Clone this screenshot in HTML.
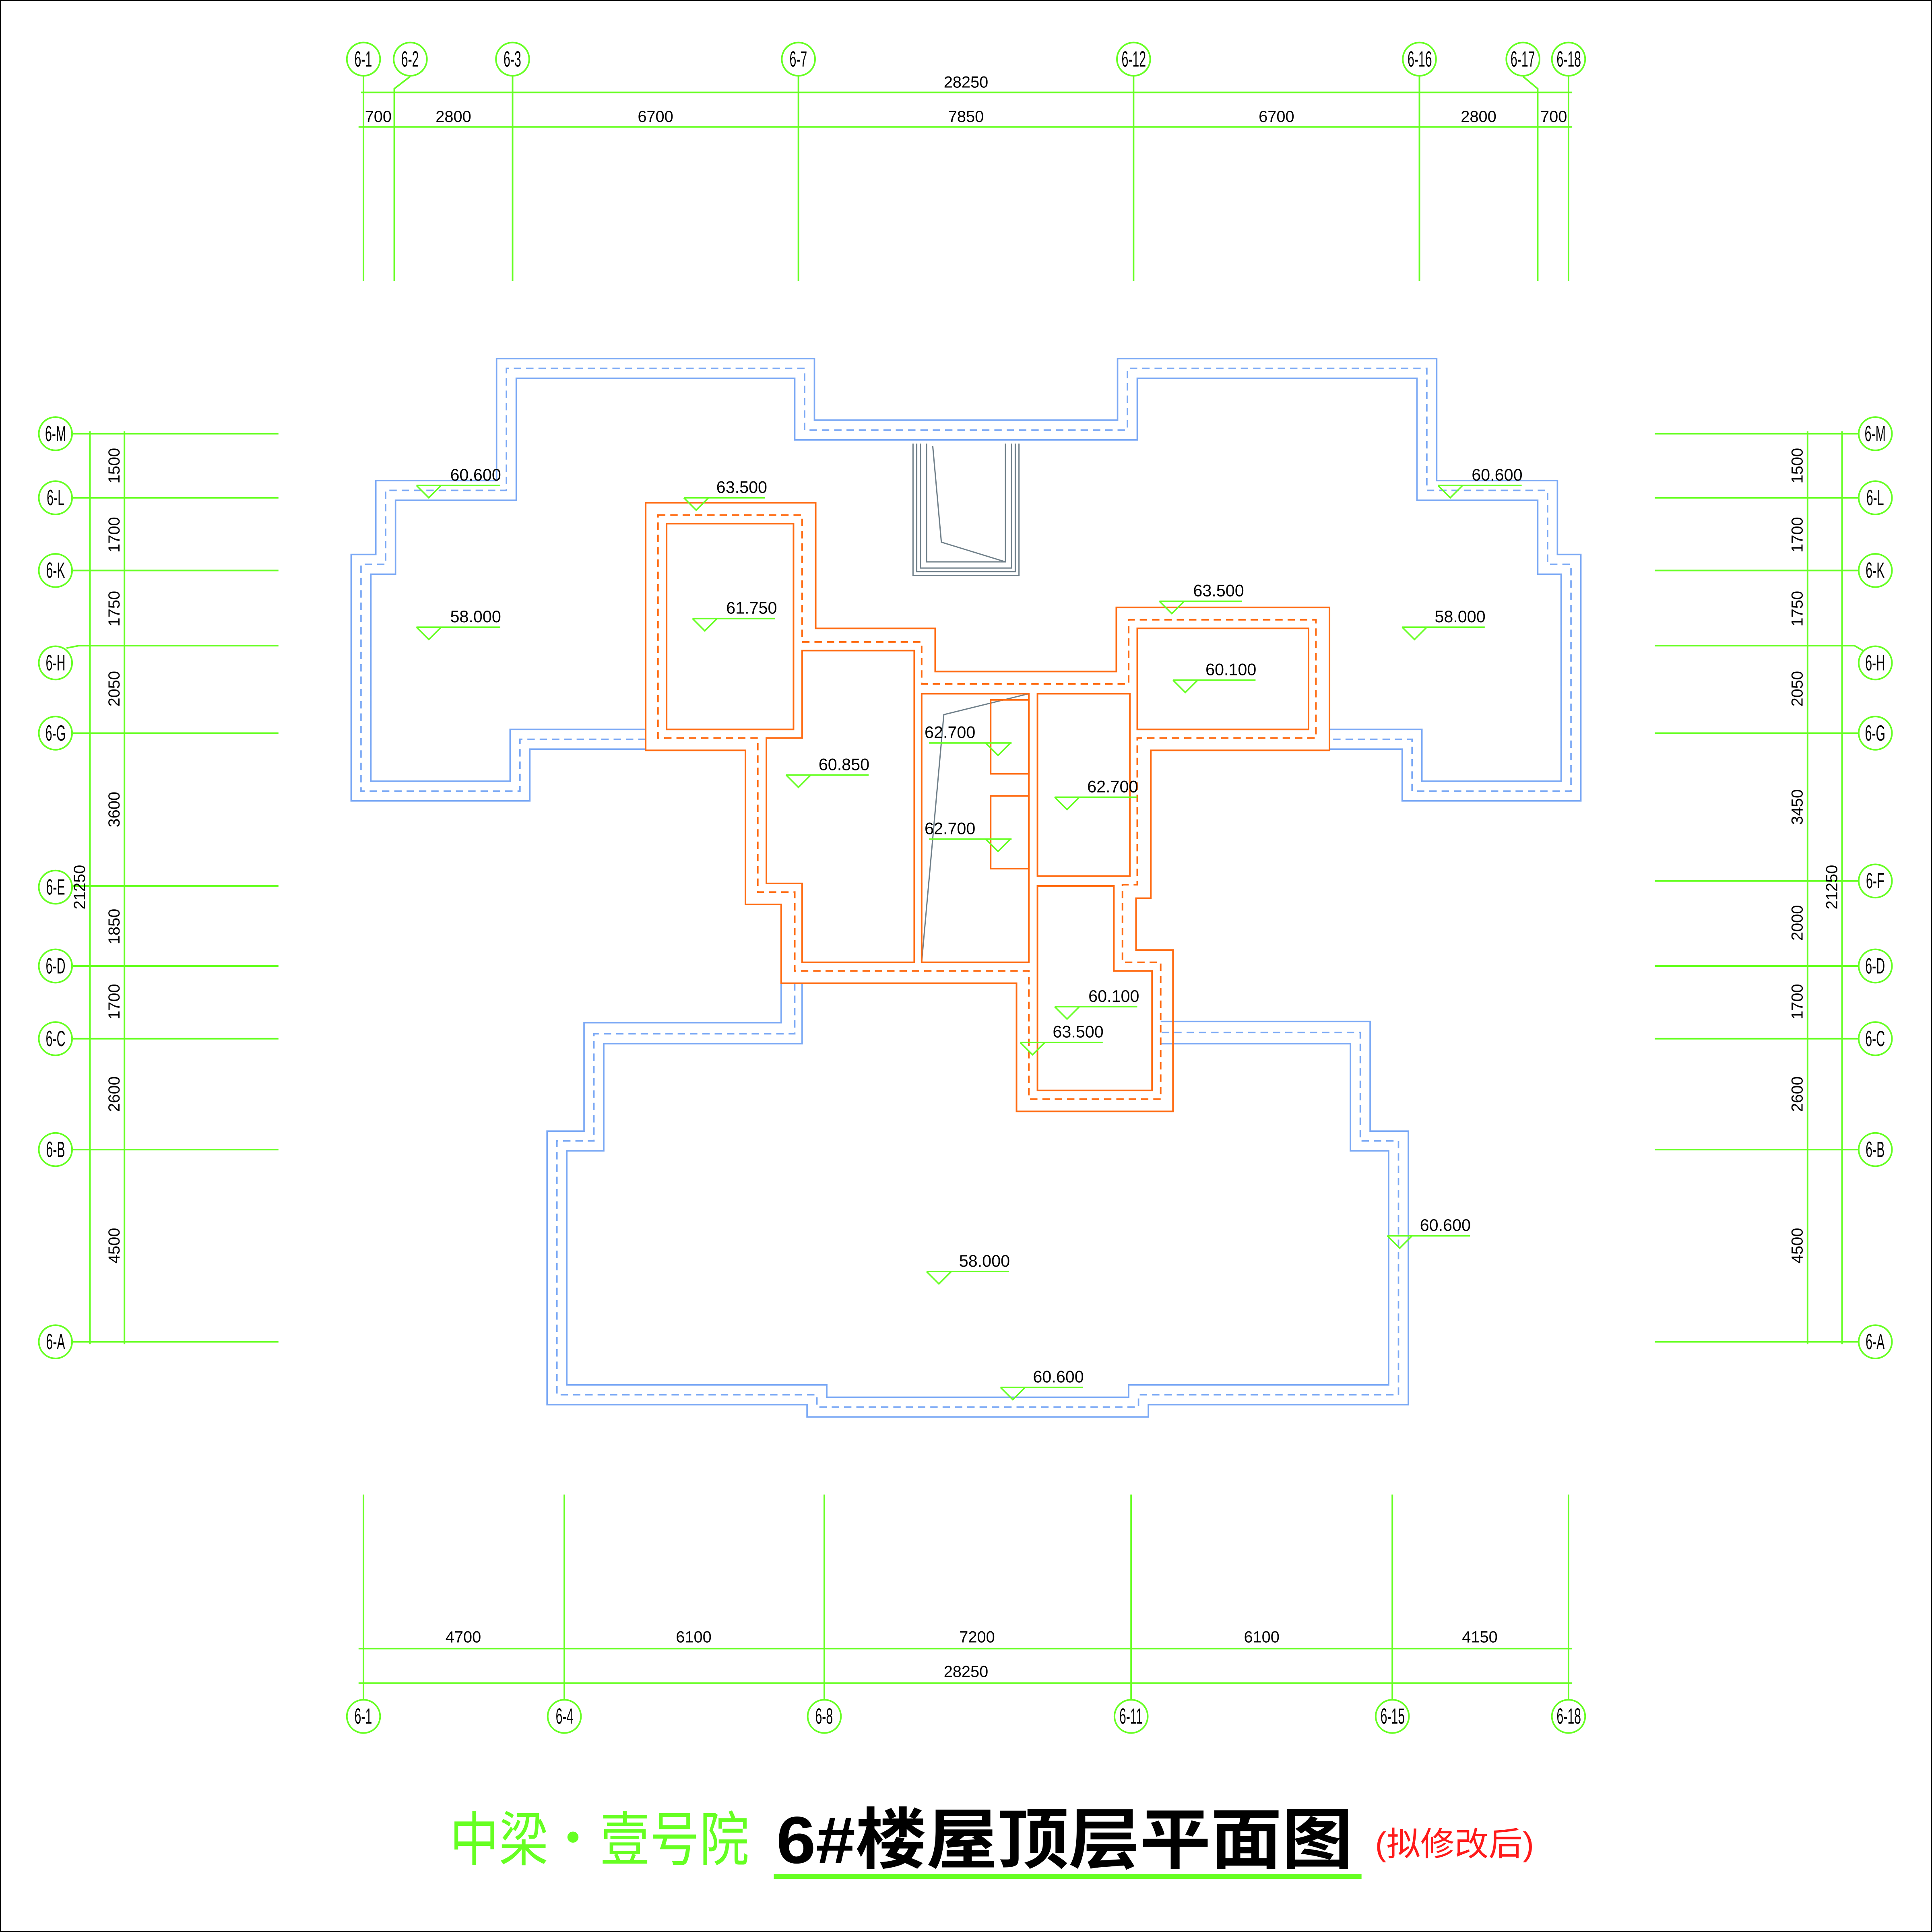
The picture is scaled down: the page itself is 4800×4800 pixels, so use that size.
<!DOCTYPE html>
<html><head><meta charset="utf-8"><style>html,body{margin:0;padding:0;background:#fff}svg{display:block}</style></head>
<body>
<svg width="4800" height="4800" viewBox="0 0 1568 1568" xmlns="http://www.w3.org/2000/svg" font-family="Liberation Sans, sans-serif">
<rect x="0.5" y="0.5" width="1567" height="1567" fill="#fff" stroke="#000" stroke-width="1"/>
<g stroke="#66ff22" stroke-width="1.3" fill="none">
<line x1="295" y1="62" x2="295" y2="228"/>
<polyline points="333,62 320,72 320,228"/>
<line x1="416" y1="62" x2="416" y2="228"/>
<line x1="648" y1="62" x2="648" y2="228"/>
<line x1="920" y1="62" x2="920" y2="228"/>
<line x1="1152" y1="62" x2="1152" y2="228"/>
<polyline points="1236,62 1248,72 1248,228"/>
<line x1="1273" y1="62" x2="1273" y2="228"/>
<line x1="293" y1="75" x2="1276" y2="75"/>
<line x1="291" y1="103" x2="1276" y2="103"/>
<line x1="295" y1="1213" x2="295" y2="1379"/>
<line x1="458" y1="1213" x2="458" y2="1379"/>
<line x1="669" y1="1213" x2="669" y2="1379"/>
<line x1="918" y1="1213" x2="918" y2="1379"/>
<line x1="1130" y1="1213" x2="1130" y2="1379"/>
<line x1="1273" y1="1213" x2="1273" y2="1379"/>
<line x1="291" y1="1338" x2="1276" y2="1338"/>
<line x1="291" y1="1366" x2="1276" y2="1366"/>
<line x1="59" y1="352" x2="226" y2="352"/>
<line x1="59" y1="404" x2="226" y2="404"/>
<line x1="59" y1="463" x2="226" y2="463"/>
<polyline points="54,526 64,524 226,524"/>
<line x1="59" y1="595" x2="226" y2="595"/>
<line x1="59" y1="719" x2="226" y2="719"/>
<line x1="59" y1="784" x2="226" y2="784"/>
<line x1="59" y1="843" x2="226" y2="843"/>
<line x1="59" y1="933" x2="226" y2="933"/>
<line x1="59" y1="1089" x2="226" y2="1089"/>
<line x1="73" y1="350" x2="73" y2="1091"/>
<line x1="101" y1="350" x2="101" y2="1091"/>
<line x1="1343" y1="352" x2="1508" y2="352"/>
<line x1="1343" y1="404" x2="1508" y2="404"/>
<line x1="1343" y1="463" x2="1508" y2="463"/>
<polyline points="1343,524 1505,524 1512,528"/>
<line x1="1343" y1="595" x2="1508" y2="595"/>
<line x1="1343" y1="715" x2="1508" y2="715"/>
<line x1="1343" y1="784" x2="1508" y2="784"/>
<line x1="1343" y1="843" x2="1508" y2="843"/>
<line x1="1343" y1="933" x2="1508" y2="933"/>
<line x1="1343" y1="1089" x2="1508" y2="1089"/>
<line x1="1495" y1="350" x2="1495" y2="1091"/>
<line x1="1467" y1="350" x2="1467" y2="1091"/>
<circle cx="295" cy="48" r="13.5"/><circle cx="333" cy="48" r="13.5"/><circle cx="416" cy="48" r="13.5"/><circle cx="648" cy="48" r="13.5"/><circle cx="920" cy="48" r="13.5"/><circle cx="1152" cy="48" r="13.5"/><circle cx="1236" cy="48" r="13.5"/><circle cx="1273" cy="48" r="13.5"/>
<circle cx="295" cy="1393" r="13.5"/><circle cx="458" cy="1393" r="13.5"/><circle cx="669" cy="1393" r="13.5"/><circle cx="918" cy="1393" r="13.5"/><circle cx="1130" cy="1393" r="13.5"/><circle cx="1273" cy="1393" r="13.5"/>
<circle cx="45" cy="352" r="13.5"/><circle cx="45" cy="404" r="13.5"/><circle cx="45" cy="463" r="13.5"/><circle cx="45" cy="538" r="13.5"/><circle cx="45" cy="595" r="13.5"/><circle cx="45" cy="720" r="13.5"/><circle cx="45" cy="784" r="13.5"/><circle cx="45" cy="843" r="13.5"/><circle cx="45" cy="933" r="13.5"/><circle cx="45" cy="1089" r="13.5"/>
<circle cx="1522" cy="352" r="13.5"/><circle cx="1522" cy="404" r="13.5"/><circle cx="1522" cy="463" r="13.5"/><circle cx="1522" cy="538" r="13.5"/><circle cx="1522" cy="595" r="13.5"/><circle cx="1522" cy="715" r="13.5"/><circle cx="1522" cy="784" r="13.5"/><circle cx="1522" cy="843" r="13.5"/><circle cx="1522" cy="933" r="13.5"/><circle cx="1522" cy="1089" r="13.5"/>
</g>
<g font-size="18" fill="#000" text-anchor="middle">
<g transform="scale(0.55,1)">
<text x="536" y="54">6-1</text><text x="605" y="54">6-2</text><text x="756" y="54">6-3</text><text x="1178" y="54">6-7</text><text x="1673" y="54">6-12</text><text x="2095" y="54">6-16</text><text x="2247" y="54">6-17</text><text x="2315" y="54">6-18</text>
<text x="536" y="1399">6-1</text><text x="833" y="1399">6-4</text><text x="1216" y="1399">6-8</text><text x="1669" y="1399">6-11</text><text x="2055" y="1399">6-15</text><text x="2315" y="1399">6-18</text>
<text x="82" y="358">6-M</text><text x="82" y="410">6-L</text><text x="82" y="469">6-K</text><text x="82" y="544">6-H</text><text x="82" y="601">6-G</text><text x="82" y="726">6-E</text><text x="82" y="790">6-D</text><text x="82" y="849">6-C</text><text x="82" y="939">6-B</text><text x="82" y="1095">6-A</text>
<text x="2767" y="358">6-M</text><text x="2767" y="410">6-L</text><text x="2767" y="469">6-K</text><text x="2767" y="544">6-H</text><text x="2767" y="601">6-G</text><text x="2767" y="721">6-F</text><text x="2767" y="790">6-D</text><text x="2767" y="849">6-C</text><text x="2767" y="939">6-B</text><text x="2767" y="1095">6-A</text>
</g>
</g>
<g font-size="13" fill="#000" text-anchor="middle">
<text x="784" y="71">28250</text>
<text x="307" y="99">700</text><text x="368" y="99">2800</text><text x="532" y="99">6700</text><text x="784" y="99">7850</text><text x="1036" y="99">6700</text><text x="1200" y="99">2800</text><text x="1261" y="99">700</text>
<text x="376" y="1333">4700</text><text x="563" y="1333">6100</text><text x="793" y="1333">7200</text><text x="1024" y="1333">6100</text><text x="1201" y="1333">4150</text>
<text x="784" y="1361">28250</text>
<g transform="rotate(-90)">
<text x="-378" y="97">1500</text><text x="-434" y="97">1700</text><text x="-494" y="97">1750</text><text x="-559" y="97">2050</text><text x="-657" y="97">3600</text><text x="-752" y="97">1850</text><text x="-813" y="97">1700</text><text x="-888" y="97">2600</text><text x="-1011" y="97">4500</text><text x="-720" y="69">21250</text>
<text x="-378" y="1463">1500</text><text x="-434" y="1463">1700</text><text x="-494" y="1463">1750</text><text x="-559" y="1463">2050</text><text x="-655" y="1463">3450</text><text x="-749" y="1463">2000</text><text x="-813" y="1463">1700</text><text x="-888" y="1463">2600</text><text x="-1011" y="1463">4500</text><text x="-720" y="1491">21250</text>
</g>
</g>
<g stroke="#7aa8f5" stroke-width="1.2" fill="none">
<polyline points="524,608 430,608 430,650 285,650 285,450 305,450 305,390 403,390 403,291 661,291 661,341 907,341 907,291 1166,291 1166,390 1264,390 1264,450 1283,450 1283,650 1138,650 1138,608 1079,608"/>
<polyline points="524,592 414,592 414,634 301,634 301,466 321,466 321,406 419,406 419,307 645,307 645,357 923,357 923,307 1150,307 1150,406 1248,406 1248,466 1267,466 1267,634 1154,634 1154,592 1079,592"/>
<polyline stroke-dasharray="6,4" points="524,600 422,600 422,642 293,642 293,458 313,458 313,398 411,398 411,299 653,299 653,349 915,349 915,299 1158,299 1158,398 1256,398 1256,458 1275,458 1275,642 1146,642 1146,600 1079,600"/>
<polyline points="634,798 634,830 474,830 474,918 444,918 444,1140 655,1140 655,1150 932,1150 932,1140 1143,1140 1143,918 1112,918 1112,829 942,829"/>
<polyline points="651,798 651,847 490,847 490,934 460,934 460,1124 671,1124 671,1134 916,1134 916,1124 1127,1124 1127,934 1096,934 1096,847 942,847"/>
<polyline stroke-dasharray="6,4" points="645,798 645,839 482,839 482,926 452,926 452,1132 663,1132 663,1142 924,1142 924,1132 1135,1132 1135,926 1104,926 1104,838 942,838"/>
</g>
<g stroke="#70808a" stroke-width="1" fill="none">
<polyline points="741,360 741,467 827,467 827,360"/>
<polyline points="744,360 744,464 824,464 824,360"/>
<polyline points="747,360 747,461 821,461 821,360"/>
<polyline points="752,360 752,456 816,456 816,360"/>
<polyline points="757,362 764,440 816,456"/>
<polyline points="748,781 766,580 835,563"/>
</g>
<g stroke="#ff6a10" stroke-width="1.3" fill="none">
<polygon points="524,408 662,408 662,510 759,510 759,545 906,545 906,493 1079,493 1079,609 934,609 934,729 922,729 922,771 952,771 952,902 825,902 825,798 634,798 634,734 605,734 605,609 524,609"/>
<polygon stroke-dasharray="6,4" points="534,418 651,418 651,521 748,521 748,555 916,555 916,503 1068,503 1068,599 923,599 923,718 911,718 911,781 942,781 942,892 835,892 835,788 645,788 645,724 615,724 615,599 534,599"/>
<rect x="541" y="425" width="103" height="167"/>
<polygon points="651,528 742,528 742,781 651,781 651,717 622,717 622,599 651,599"/>
<rect x="748" y="563" width="87" height="218"/>
<rect x="804" y="568" width="31" height="60"/>
<rect x="804" y="646" width="31" height="59"/>
<rect x="842" y="563" width="75" height="148"/>
<polygon points="842,719 904,719 904,788 935,788 935,885 842,885"/>
<rect x="923" y="510" width="139" height="82"/>
</g>
<g stroke="#66ff22" stroke-width="1.2" fill="none">
<path d="M338,394 h68 M338,394 l10,10 l10,-10"/>
<path d="M555,404 h66 M555,404 l10,10 l10,-10"/>
<path d="M338,509 h68 M338,509 l10,10 l10,-10"/>
<path d="M562,502 h67 M562,502 l10,10 l10,-10"/>
<path d="M638,629 h67 M638,629 l10,10 l10,-10"/>
<path d="M754,603 h67 M800,603 l10,10 l10,-10"/>
<path d="M754,681 h67 M800,681 l10,10 l10,-10"/>
<path d="M856,647 h67 M856,647 l10,10 l10,-10"/>
<path d="M941,488 h67 M941,488 l10,10 l10,-10"/>
<path d="M952,552 h67 M952,552 l10,10 l10,-10"/>
<path d="M1167,394 h68 M1167,394 l10,10 l10,-10"/>
<path d="M1138,509 h67 M1138,509 l10,10 l10,-10"/>
<path d="M856,817 h67 M856,817 l10,10 l10,-10"/>
<path d="M828,846 h67 M828,846 l10,10 l10,-10"/>
<path d="M1126,1003 h67 M1126,1003 l10,10 l10,-10"/>
<path d="M752,1032 h67 M752,1032 l10,10 l10,-10"/>
<path d="M812,1126 h67 M812,1126 l10,10 l10,-10"/>
</g>
<g font-size="13.5" fill="#000" text-anchor="middle">
<text x="386" y="390">60.600</text><text x="602" y="400">63.500</text><text x="386" y="505">58.000</text><text x="610" y="498">61.750</text><text x="685" y="625">60.850</text><text x="771" y="599">62.700</text><text x="771" y="677">62.700</text><text x="903" y="643">62.700</text><text x="989" y="484">63.500</text><text x="999" y="548">60.100</text><text x="1215" y="390">60.600</text><text x="1185" y="505">58.000</text><text x="904" y="813">60.100</text><text x="875" y="842">63.500</text><text x="1173" y="999">60.600</text><text x="799" y="1028">58.000</text><text x="859" y="1122">60.600</text>
</g>
<text x="365" y="1510" font-size="48" font-weight="normal" fill="#66ff22" font-family="Noto Sans CJK SC, sans-serif" textLength="80" lengthAdjust="spacingAndGlyphs">中梁</text>
<circle cx="465" cy="1491" r="4.5" fill="#66ff22"/>
<text x="487" y="1510" font-size="48" font-weight="normal" fill="#66ff22" font-family="Noto Sans CJK SC, sans-serif" textLength="121" lengthAdjust="spacingAndGlyphs">壹号院</text>
<text x="630" y="1512" font-size="54" font-weight="bold" fill="#000" font-family="Liberation Sans, Noto Sans CJK SC, sans-serif" textLength="468" lengthAdjust="spacingAndGlyphs">6#楼屋顶层平面图</text>
<rect x="628" y="1521" width="477" height="4" fill="#66ff22"/>
<text x="1116" y="1506" font-size="27" fill="#ff1a1a" font-family="Liberation Sans, Noto Sans CJK SC, sans-serif" textLength="129" lengthAdjust="spacingAndGlyphs">(拟修改后)</text>
</svg>
</body></html>
